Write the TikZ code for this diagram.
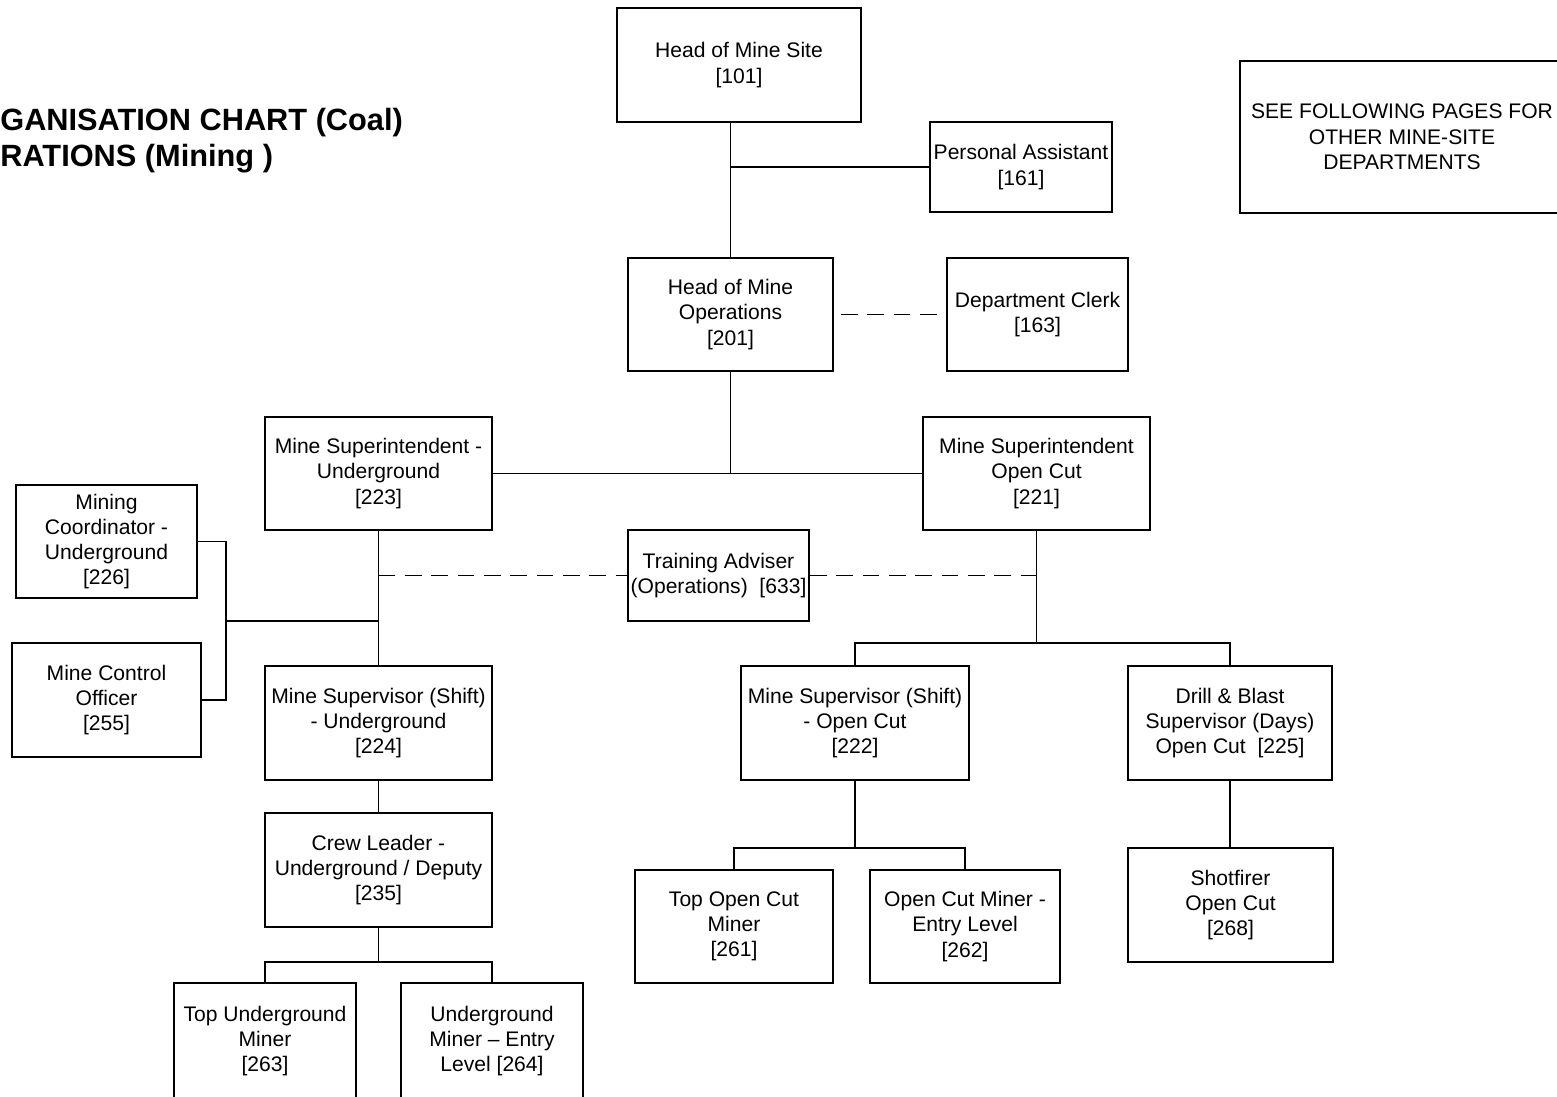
\documentclass[tikz,border=0pt]{standalone}
\usepackage{fontspec}
\setmainfont{Liberation Sans}
\usetikzlibrary{calc}

\tikzset{
  post/.style={draw, line width=1pt, align=center, inner sep=0pt,
    font=\fontsize{12}{14.4}\selectfont},
  link/.style={line width=1pt},
  dashlink/.style={line width=1pt, dash pattern=on 9.5pt off 5.5pt},
  headline/.style={anchor=base west, inner sep=0pt,
    font=\fontsize{17.5}{20.5}\selectfont\bfseries},
}

\begin{document}
\begin{tikzpicture}[x=0.02cm, y=-0.02cm]
\useasboundingbox (0,0) rectangle (1557,1096);

% =====================================================================
% Title (runs off the left edge of the page)
% =====================================================================
\node[headline] (title1) at (0,130) {GANISATION CHART (Coal)};
\node[headline] (title2) at (0,166) {RATIONS (Mining )};

% =====================================================================
% Top of the chart
% =====================================================================
\node[post, minimum width=4.88cm, minimum height=2.28cm] (site) at (739,65)
  {Head of Mine Site\\{[101]}};
\node[post, minimum width=3.64cm, minimum height=1.80cm] (pa) at (1021,167)
  {Personal Assistant\\{[161]}};
\node[post, minimum width=4.10cm, minimum height=2.26cm] (hmo) at (730.5,314.5)
  {Head of Mine\\Operations\\{[201]}};
\node[post, minimum width=3.62cm, minimum height=2.26cm] (clerk) at (1037.5,314.5)
  {Department Clerk\\{[163]}};

% note box, right side cut by the page edge
\node[post, minimum width=6.48cm, minimum height=3.04cm] (note) at (1402,137)
  {SEE FOLLOWING PAGES FOR\\OTHER MINE-SITE\\DEPARTMENTS};

% =====================================================================
% Superintendents + staff
% =====================================================================
\node[post, minimum width=4.54cm, minimum height=2.26cm] (supug) at (378.5,473.5)
  {Mine Superintendent -\\Underground\\{[223]}};
\node[post, minimum width=4.54cm, minimum height=2.26cm] (supoc) at (1036.5,473.5)
  {Mine Superintendent\\Open Cut\\{[221]}};
\node[post, minimum width=3.62cm, minimum height=2.26cm] (coord) at (106.5,541.5)
  {Mining\\Coordinator -\\Underground\\{[226]}};
\node[post, minimum width=3.78cm, minimum height=2.28cm] (ctrl) at (106.5,700)
  {Mine Control\\Officer\\{[255]}};
\node[post, minimum width=3.62cm, minimum height=1.82cm] (train) at (718.5,575.5)
  {Training Adviser\\(Operations)~ [633]};

% =====================================================================
% Underground branch
% =====================================================================
\node[post, minimum width=4.54cm, minimum height=2.28cm] (shug) at (378.5,723)
  {Mine Supervisor (Shift)\\- Underground\\{[224]}};
\node[post, minimum width=4.54cm, minimum height=2.28cm] (crew) at (378.5,870)
  {Crew Leader -\\Underground / Deputy\\{[235]}};
\node[post, minimum width=3.64cm, minimum height=2.32cm] (topug) at (265,1041)
  {Top Underground\\Miner\\{[263]}};
\node[post, minimum width=3.64cm, minimum height=2.32cm] (entryug) at (492,1041)
  {Underground\\Miner – Entry\\Level [264]};

% =====================================================================
% Open cut branch
% =====================================================================
\node[post, minimum width=4.56cm, minimum height=2.28cm] (shoc) at (855,723)
  {Mine Supervisor (Shift)\\- Open Cut\\{[222]}};
\node[post, minimum width=4.08cm, minimum height=2.28cm] (drill) at (1230,723)
  {Drill \& Blast\\Supervisor (Days)\\Open Cut~ [225]};
\node[post, minimum width=3.96cm, minimum height=2.26cm] (topoc) at (734,926.5)
  {Top Open Cut\\Miner\\{[261]}};
\node[post, minimum width=3.80cm, minimum height=2.26cm] (entryoc) at (965,926.5)
  {Open Cut Miner -\\Entry Level\\{[262]}};
\node[post, minimum width=4.10cm, minimum height=2.28cm] (shot) at (1230.5,905)
  {Shotfirer\\Open Cut\\{[268]}};

% =====================================================================
% Reporting lines
% =====================================================================
\draw[link] (hmo.north) -- (hmo.north |- site.south);
\draw[link] (pa.west) -- (pa.west -| hmo.north);
\draw[dashlink] ($(hmo.east)+(7,0)$) -- (clerk.west);

\draw[link] (hmo.south) -- (hmo.south |- supug.east);
\draw[link] (supug.east) -- (supoc.west);

% underground staff bracket
\coordinate (ujoin) at (226,621);
\draw[link] (coord.east) -| (ujoin) |- (ctrl.east);
\draw[link] (ujoin) -- (ujoin -| supug.south);
\draw[link] (supug.south) -- (shug.north);

% training adviser (dashed)
\draw[dashlink] (supug.south |- train.west) -- (train.west);
\draw[dashlink] (train.east) -- (train.east -| supoc.south);

% open cut supervisors
\coordinate (ocjoin) at (1036.5,643);
\draw[link] (supoc.south) -- (ocjoin);
\draw[link] (shoc.north) |- (ocjoin) -| (drill.north);

% underground crew
\draw[link] (shug.south) -- (crew.north);
\coordinate (crewjoin) at (378.5,962);
\draw[link] (crew.south) -- (crewjoin);
\draw[link] (topug.north) |- (crewjoin) -| (entryug.north);

% open cut miners
\coordinate (shocjoin) at (855,848);
\draw[link] (shoc.south) -- (shocjoin);
\draw[link] (topoc.north) |- (shocjoin) -| (entryoc.north);
\draw[link] (drill.south) -- (drill.south |- shot.north);

\end{tikzpicture}
\end{document}
